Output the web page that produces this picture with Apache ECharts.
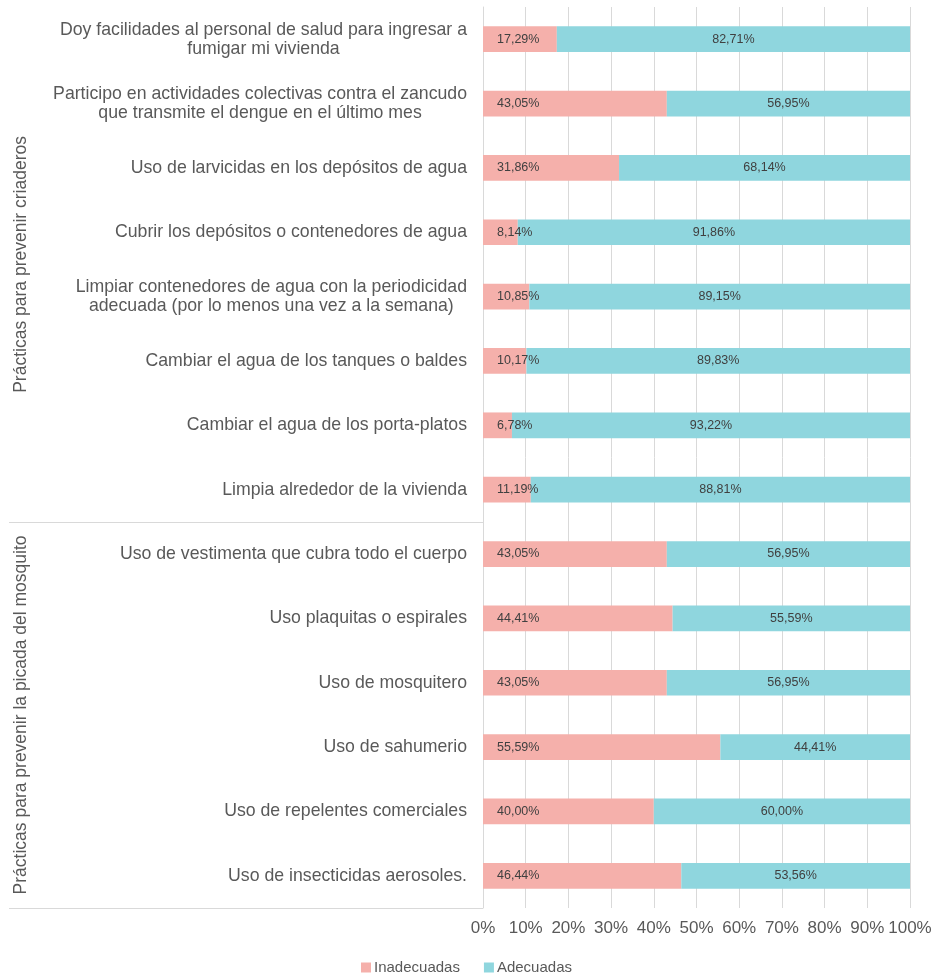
<!DOCTYPE html>
<html>
<head>
<meta charset="utf-8">
<script src="https://cdn.jsdelivr.net/npm/echarts@6/dist/echarts.min.js"></script>
<style>
  html, body { margin: 0; padding: 0; background: #fff; }
  #chart { width: 933px; height: 977px; }
</style>
</head>
<body>
<div id="chart"></div>
<script>
// categorias (de arriba hacia abajo)
const categories = [
  'Doy facilidades al personal de salud para ingresar a\nfumigar mi vivienda',
  'Participo en actividades colectivas contra el zancudo\nque transmite el dengue en el último mes',
  'Uso de larvicidas en los depósitos de agua',
  'Cubrir los depósitos o contenedores de agua',
  'Limpiar contenedores de agua con la periodicidad\nadecuada (por lo menos una vez a la semana)',
  'Cambiar el agua de los tanques o baldes',
  'Cambiar el agua de los porta-platos',
  'Limpia alrededor de la vivienda',
  'Uso de vestimenta que cubra todo el cuerpo',
  'Uso plaquitas o espirales',
  'Uso de mosquitero',
  'Uso de sahumerio',
  'Uso de repelentes comerciales',
  'Uso de insecticidas aerosoles.'
];
const inadecuadas = [17.29, 43.05, 31.86, 8.14, 10.85, 10.17, 6.78, 11.19, 43.05, 44.41, 43.05, 55.59, 40.00, 46.44];
const adecuadas = [82.71, 56.95, 68.14, 91.86, 89.15, 89.83, 93.22, 88.81, 56.95, 55.59, 56.95, 44.41, 60.00, 53.56];

// grupos: nombre y cantidad de categorias
const groups = [
  { name: 'Prácticas para prevenir criaderos', count: 8 },
  { name: 'Prácticas para prevenir la picada del mosquito', count: 6 }
];

const font = 'Liberation Sans, Arial, sans-serif';
const fmt = v => v.toFixed(2).replace('.', ',') + '%';

let chart = echarts.init(document.getElementById('chart'));

const option = {
  animation: false,
  backgroundColor: '#fff',
  textStyle: { fontFamily: font },
  grid: { left: 483, right: 23, top: 7, bottom: 69, outerBoundsMode: 'none', containLabel: false },
  legend: {
    bottom: -3,
    left: 'center',
    itemWidth: 10,
    itemHeight: 10,
    itemGap: 24,
    icon: 'rect',
    textStyle: { fontSize: 15, color: '#595959', fontFamily: font, padding: [0, 0, 0, -2] },
    data: ['Inadecuadas', 'Adecuadas']
  },
  xAxis: {
    type: 'value',
    min: 0,
    max: 100,
    interval: 10,
    axisLine: { show: false },
    axisTick: { show: false },
    splitLine: { lineStyle: { color: '#d9d9d9', width: 1 } },
    axisLabel: { fontSize: 17, color: '#595959', margin: 12, formatter: v => v + '%' }
  },
  yAxis: {
    type: 'category',
    inverse: true,
    data: categories,
    axisLine: { show: true, lineStyle: { color: '#d9d9d9' } },
    axisTick: { show: false },
    axisLabel: {
      fontSize: 17.7,
      color: '#595959',
      margin: 16,
      lineHeight: 19,
      formatter: v => v.split('\n').map(s => '{c|' + s + '}').join('\n'),
      rich: { c: { align: 'center', fontSize: 17.7, color: '#595959', lineHeight: 19, fontFamily: font } }
    }
  },
  series: [
    {
      name: 'Inadecuadas',
      type: 'bar',
      stack: 'total',
      barWidth: '40%',
      itemStyle: { color: '#f5b0ab' },
      label: {
        show: true,
        position: 'insideLeft',
        distance: 14,
        fontSize: 12.5,
        color: '#404040',
        formatter: p => fmt(p.value)
      },
      data: inadecuadas
    },
    {
      name: 'Adecuadas',
      type: 'bar',
      stack: 'total',
      barWidth: '40%',
      itemStyle: { color: '#8fd6de' },
      label: {
        show: true,
        position: 'inside',
        fontSize: 12.5,
        color: '#404040',
        formatter: p => fmt(p.value)
      },
      data: adecuadas
    }
  ]
};

chart.setOption(option);

// etiquetas de grupo y separadores, ubicados con la escala del eje
function drawGroups() {
  const y0 = chart.convertToPixel({ yAxisIndex: 0 }, 0);
  const y1 = chart.convertToPixel({ yAxisIndex: 0 }, 1);
  const step = y1 - y0;
  const axisX = chart.convertToPixel({ xAxisIndex: 0 }, 0);
  const elements = [];
  let start = 0;
  groups.forEach(g => {
    const top = y0 + (start - 0.5) * step;
    const bottom = y0 + (start + g.count - 0.5) * step;
    elements.push({
      type: 'text',
      x: 21,
      y: (top + bottom) / 2,
      rotation: Math.PI / 2,
      style: {
        text: g.name,
        fontSize: 17.5,
        fontFamily: font,
        fill: '#595959',
        align: 'center',
        verticalAlign: 'middle'
      }
    });
    elements.push({
      type: 'line',
      shape: { x1: 9, y1: Math.round(bottom) + 0.5, x2: axisX, y2: Math.round(bottom) + 0.5 },
      style: { stroke: '#d9d9d9', lineWidth: 1 }
    });
    start += g.count;
  });
  chart.setOption({ graphic: elements });
}
drawGroups();
</script>
</body>
</html>
